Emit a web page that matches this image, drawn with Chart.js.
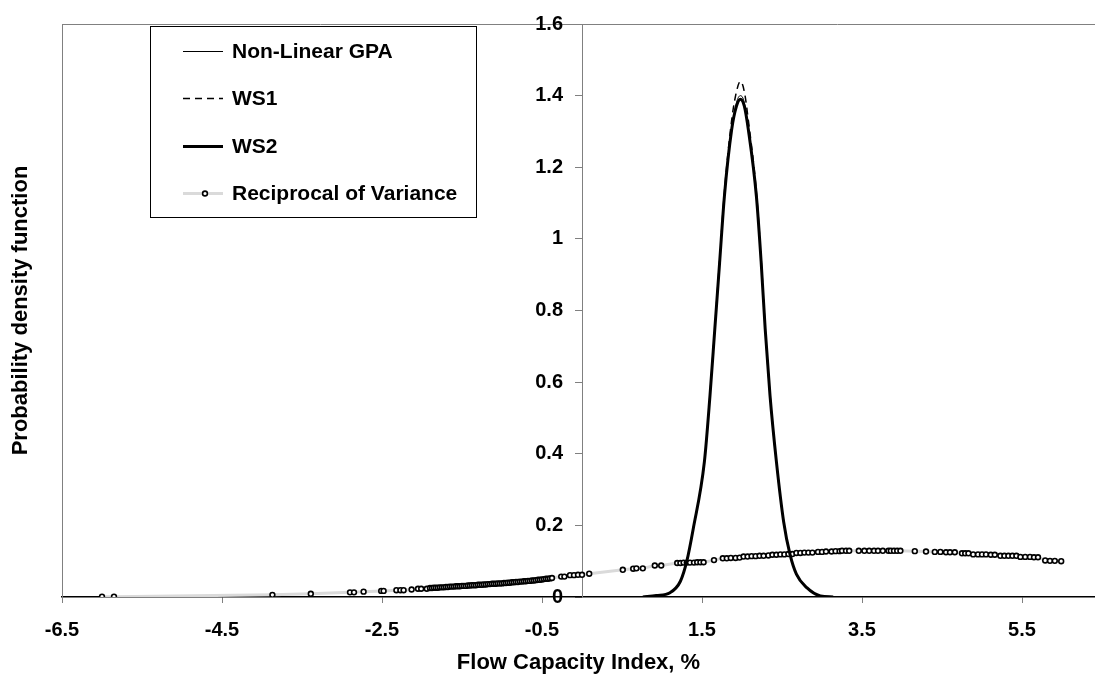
<!DOCTYPE html>
<html><head><meta charset="utf-8">
<script src="https://cdn.jsdelivr.net/npm/chart.js@4.4.1/dist/chart.umd.min.js"></script>
<style>html,body{margin:0;padding:0;background:#fff;overflow:hidden}canvas{display:block}</style>
</head><body>
<canvas id="c" width="1095" height="677"></canvas>
<script>
// ---- data ----
const seriesNames = ['Non-Linear GPA', 'WS1', 'WS2', 'Reciprocal of Variance'];
const xTickValues = [-6.5, -4.5, -2.5, -0.5, 1.5, 3.5, 5.5];
const yTickStep = 0.2;
const xTitle = 'Flow Capacity Index, %';
const yTitle = 'Probability density function';

const curveX     = [0.76, 0.93, 1.10, 1.23, 1.31, 1.39, 1.53, 1.60, 1.66, 1.72, 1.78, 1.87, 1.93, 1.98, 2.03, 2.08, 2.18, 2.24, 2.29, 2.35, 2.43, 2.52, 2.60, 2.68, 2.81, 2.98, 3.14];
const nonLinearY = [0, 0.004, 0.012, 0.044, 0.10, 0.19, 0.378, 0.563, 0.748, 0.933, 1.119, 1.305, 1.38, 1.40, 1.38, 1.305, 1.119, 0.933, 0.748, 0.563, 0.378, 0.211, 0.119, 0.064, 0.026, 0.003, 0];
const ws1Y       = [0, 0.004, 0.012, 0.044, 0.10, 0.19, 0.378, 0.565, 0.752, 0.94, 1.13, 1.33, 1.41, 1.44, 1.41, 1.33, 1.13, 0.94, 0.752, 0.565, 0.378, 0.211, 0.119, 0.064, 0.026, 0.003, 0];
const ws2Y       = [0, 0.004, 0.012, 0.044, 0.10, 0.19, 0.378, 0.563, 0.748, 0.933, 1.119, 1.304, 1.37, 1.39, 1.37, 1.304, 1.119, 0.933, 0.748, 0.563, 0.378, 0.211, 0.119, 0.064, 0.026, 0.003, 0];

const recipX = [-6.00, -5.85, -3.87, -3.39, -2.90, -2.85, -2.73, -2.51, -2.48, -2.32, -2.27, -2.23, -2.13, -2.05, -2.01, -1.94,
  -1.900, -1.875, -1.850, -1.825, -1.800, -1.775, -1.750, -1.725, -1.700, -1.675, -1.650, -1.625, -1.600, -1.575, -1.550, -1.525,
  -1.500, -1.475, -1.450, -1.425, -1.400, -1.375, -1.350, -1.325, -1.300, -1.275, -1.250, -1.225, -1.200, -1.175, -1.150, -1.125,
  -1.100, -1.075, -1.050, -1.025, -1.000, -0.975, -0.950, -0.925, -0.900, -0.875, -0.850, -0.825, -0.800, -0.775, -0.750, -0.725,
  -0.700, -0.675, -0.650, -0.625, -0.600, -0.575, -0.550, -0.525, -0.500, -0.475, -0.450, -0.425, -0.400, -0.375,
  -0.26, -0.22, -0.15, -0.10, -0.05, 0.00, 0.09, 0.51, 0.64, 0.68, 0.76, 0.91, 0.99, 1.19, 1.23, 1.27, 1.31, 1.35,
  1.40, 1.44, 1.48, 1.52, 1.65, 1.76, 1.81, 1.86, 1.92, 1.97, 2.02, 2.07, 2.12, 2.17, 2.22, 2.27, 2.33, 2.38, 2.43,
  2.48, 2.53, 2.58, 2.63, 2.68, 2.73, 2.78, 2.83, 2.88, 2.95, 3.00, 3.05, 3.12, 3.17, 3.22, 3.25, 3.30, 3.34, 3.46,
  3.53, 3.59, 3.65, 3.70, 3.76, 3.83, 3.86, 3.90, 3.94, 3.98, 4.16, 4.30, 4.41, 4.48, 4.55, 4.60, 4.66, 4.75, 4.79,
  4.83, 4.89, 4.95, 5.00, 5.05, 5.11, 5.16, 5.23, 5.28, 5.33, 5.38, 5.43, 5.48, 5.54, 5.60, 5.65, 5.70, 5.79, 5.85,
  5.91, 5.99];
const recipY = [0.001, 0.001, 0.006, 0.009, 0.013, 0.013, 0.015, 0.017, 0.017, 0.019, 0.019, 0.019, 0.021, 0.023, 0.023, 0.023,
  0.025, 0.025, 0.026, 0.026, 0.026, 0.027, 0.027, 0.027, 0.028, 0.028, 0.029, 0.029, 0.029, 0.030, 0.030, 0.030,
  0.031, 0.031, 0.031, 0.032, 0.032, 0.033, 0.033, 0.033, 0.034, 0.034, 0.034, 0.035, 0.035, 0.036, 0.036, 0.037,
  0.037, 0.037, 0.038, 0.038, 0.038, 0.039, 0.039, 0.040, 0.040, 0.041, 0.041, 0.042, 0.042, 0.043, 0.043, 0.044,
  0.044, 0.045, 0.045, 0.046, 0.046, 0.047, 0.048, 0.048, 0.049, 0.050, 0.051, 0.051, 0.052, 0.053,
  0.057, 0.057, 0.061, 0.061, 0.062, 0.062, 0.065, 0.076, 0.079, 0.080, 0.080, 0.088, 0.088, 0.095, 0.095, 0.096, 0.096, 0.096,
  0.096, 0.097, 0.097, 0.097, 0.103, 0.108, 0.108, 0.109, 0.109, 0.110, 0.113, 0.113, 0.114, 0.114, 0.115, 0.115, 0.116, 0.118, 0.118,
  0.119, 0.119, 0.120, 0.120, 0.123, 0.123, 0.124, 0.124, 0.124, 0.126, 0.126, 0.127, 0.127, 0.128, 0.128, 0.129, 0.129, 0.129, 0.129,
  0.129, 0.129, 0.129, 0.129, 0.129, 0.129, 0.129, 0.129, 0.129, 0.129, 0.128, 0.127, 0.126, 0.126, 0.125, 0.125, 0.125, 0.122, 0.122,
  0.122, 0.119, 0.119, 0.119, 0.119, 0.118, 0.118, 0.115, 0.115, 0.115, 0.115, 0.115, 0.112, 0.112, 0.112, 0.111, 0.111, 0.102, 0.101,
  0.101, 0.100];

// ---- chart ----
const FONT = '"Liberation Sans", Arial, Helvetica, sans-serif';
Chart.defaults.font.family = FONT;
Chart.defaults.color = '#000';

const pts = (xs, ys) => xs.map((x, i) => ({x: x, y: ys[i]}));
const X_MIN = -6.5, X_MAX = 6.4125;

// legend box drawn inside the plot area (upper left), like the reference
const boxLegend = {
  id: 'boxLegend',
  afterDraw(chart) {
    const ctx = chart.ctx;
    ctx.save();
    ctx.fillStyle = '#fff';
    ctx.strokeStyle = '#000';
    ctx.lineWidth = 1;
    ctx.fillRect(150.5, 26.5, 326, 191);
    ctx.strokeRect(150.5, 26.5, 326, 191);
    chart.data.datasets.forEach((ds, i) => {
      const y = Math.round(51 + i * 47.3) + 0.5;
      ctx.save();
      ctx.strokeStyle = ds.borderColor;
      ctx.lineWidth = ds.borderWidth;
      ctx.setLineDash(ds.borderDash || []);
      ctx.beginPath(); ctx.moveTo(183, y); ctx.lineTo(223, y); ctx.stroke();
      ctx.restore();
      if (ds.pointRadius > 0) {
        ctx.beginPath();
        ctx.arc(205, y, ds.pointRadius, 0, Math.PI * 2);
        ctx.fillStyle = ds.pointBackgroundColor;
        ctx.fill();
        ctx.lineWidth = ds.pointBorderWidth;
        ctx.strokeStyle = ds.pointBorderColor;
        ctx.stroke();
      }
      ctx.fillStyle = '#000';
      ctx.font = 'bold 21px ' + FONT;
      ctx.textBaseline = 'middle';
      ctx.textAlign = 'left';
      ctx.fillText(ds.label, 232, y + 1);
    });
    ctx.restore();
  }
};

// place the value axis so that it crosses the x axis at x = 0
const crossAxis = {
  id: 'crossAxis',
  afterLayout(chart) {
    const y = chart.scales.y, x = chart.scales.x;
    const px = Math.round(x.getPixelForValue(0));
    y.left = px - 80; y.right = px;
  }
};

new Chart(document.getElementById('c'), {
  type: 'scatter',
  data: {
    datasets: [
      {label: seriesNames[0], data: pts(curveX, nonLinearY), showLine: true, borderColor: '#000', borderWidth: 1,
       pointRadius: 0, cubicInterpolationMode: 'monotone'},
      {label: seriesNames[1], data: pts(curveX, ws1Y), showLine: true, borderColor: '#000', borderWidth: 1.5,
       borderDash: [7, 5], pointRadius: 0, cubicInterpolationMode: 'monotone'},
      {label: seriesNames[2], data: pts(curveX, ws2Y), showLine: true, borderColor: '#000', borderWidth: 3,
       pointRadius: 0, cubicInterpolationMode: 'monotone'},
      {label: seriesNames[3], data: pts(recipX, recipY), showLine: true, borderColor: '#dadada', borderWidth: 3,
       pointRadius: 2.4, pointBorderWidth: 1.6, pointBorderColor: '#000', pointBackgroundColor: '#fff'}
    ]
  },
  options: {
    responsive: false,
    animation: false,
    devicePixelRatio: 1,
    layout: {padding: 0, autoPadding: false},
    plugins: {legend: {display: false}, tooltip: {enabled: false}},
    scales: {
      x: {
        type: 'linear', position: 'bottom', min: X_MIN, max: X_MAX,
        afterBuildTicks: s => { s.ticks = xTickValues.map(v => ({value: v})); },
        afterFit: s => { s.height = 80; },
        ticks: {font: {size: 20, weight: 'bold'}, color: '#000', padding: 15, maxRotation: 0, autoSkip: false},
        grid: {drawOnChartArea: false, drawTicks: true, tickLength: 6, color: '#808080'},
        border: {display: true, color: '#000', width: 1.5},
        title: {display: true, text: xTitle, font: {size: 22, weight: 'bold'}, color: '#000', padding: {top: 0, bottom: 1}}
      },
      xTop: {
        type: 'linear', position: 'top', min: X_MIN, max: X_MAX,
        afterFit: s => { s.height = 20; },
        ticks: {display: false},
        grid: {display: false},
        border: {display: true, color: '#808080', width: 1}
      },
      yFrame: {
        type: 'linear', position: 'left', min: 0, max: 1.6, weight: 1,
        afterFit: s => { s.width = 62; },
        ticks: {display: false},
        grid: {display: false},
        border: {display: true, color: '#808080', width: 1},
        title: {display: true, text: yTitle, font: {size: 22, weight: 'bold'}, color: '#000', padding: {top: 8, bottom: 0}}
      },
      y: {
        type: 'linear', position: 'left', min: 0, max: 1.6, weight: 0,
        afterFit: s => { s.width = 0; },
        ticks: {stepSize: yTickStep, font: {size: 20, weight: 'bold'}, color: '#000', padding: 12,
                callback: v => String(Math.round(v * 10) / 10)},
        grid: {drawOnChartArea: false, drawTicks: true, tickLength: 7, color: '#808080'},
        border: {display: true, color: '#808080', width: 1}
      }
    }
  },
  plugins: [crossAxis, boxLegend]
});
</script>
</body></html>
